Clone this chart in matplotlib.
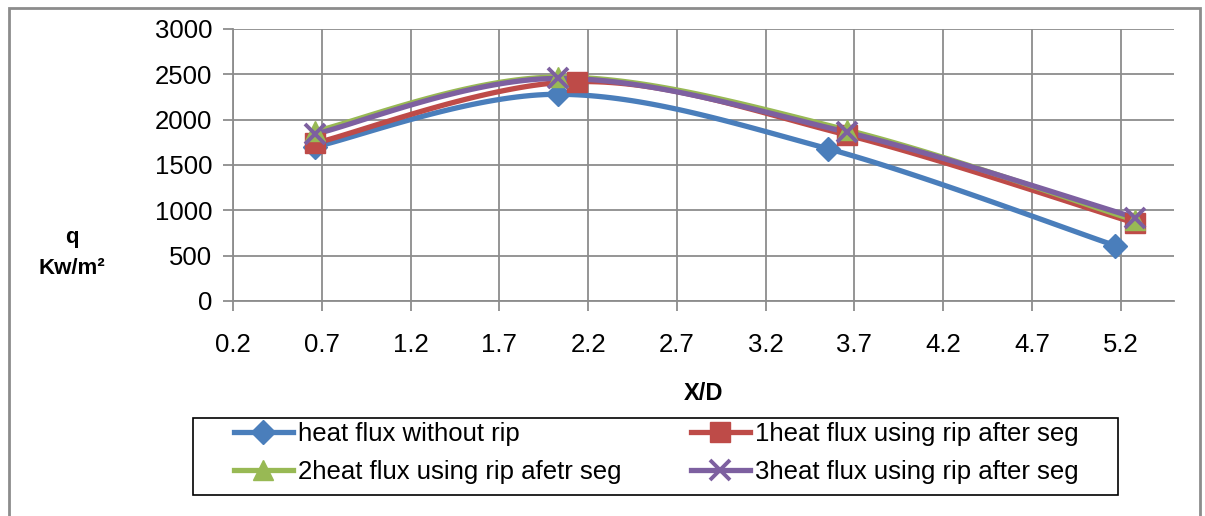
import numpy as np
import matplotlib
matplotlib.use("Agg")
import matplotlib.pyplot as plt
from matplotlib.patches import Rectangle

# data
x_base = [0.66, 2.03, 3.55, 5.17]
q_base = [1700, 2280, 1680, 610]
x_rib = [0.66, 2.14, 3.66, 5.28]
x_rib2 = [0.66, 2.03, 3.66, 5.28]
q_rib1 = [1740, 2420, 1830, 860]
q_rib2 = [1870, 2470, 1885, 890]
q_rib3 = [1840, 2455, 1860, 920]

labels = ["heat flux without rip", "1heat flux using rip after seg",
          "2heat flux using rip afetr seg", "3heat flux using rip after seg"]
colors = ["#4A7EBB", "#BE4B48", "#98B954", "#7D60A0"]
markers = ["D", "s", "^", "x"]


def smooth(xs, ys, n=40):
    # Excel-like smoothed line (Catmull-Rom through the points)
    xs = np.asarray(xs, float); ys = np.asarray(ys, float)
    px = np.concatenate([[xs[0]], xs, [xs[-1]]])
    py = np.concatenate([[ys[0]], ys, [ys[-1]]])
    ox, oy = [], []
    t = np.linspace(0, 1, n)
    for i in range(1, len(px) - 2):
        for arr, out in ((px, ox), (py, oy)):
            p0, p1, p2, p3 = arr[i - 1], arr[i], arr[i + 1], arr[i + 2]
            c1 = p1 + (p2 - p0) / 6
            c2 = p2 - (p3 - p1) / 6
            out.extend((1 - t) ** 3 * p1 + 3 * (1 - t) ** 2 * t * c1
                       + 3 * (1 - t) * t ** 2 * c2 + t ** 3 * p2)
    return ox, oy


plt.rcParams['font.family'] = ['Liberation Sans', 'DejaVu Sans']
fig = plt.figure(figsize=(12.05, 5.16), dpi=100)
ax = fig.add_axes([233 / 1205, 1 - 301 / 516, (1174 - 233) / 1205, (301 - 29) / 516])

series = [(x_base, q_base), (x_rib, q_rib1), (x_rib2, q_rib2), (x_rib2, q_rib3)]
handles = []
for (xs, ys), lab, c, m in zip(series, labels, colors, markers):
    sx, sy = smooth(xs, ys)
    ax.plot(sx, sy, color=c, lw=3.8, zorder=3)
    ms = 14 if m != "D" else 12
    mew = 2.8 if m == "x" else 1
    ax.plot(xs, ys, ls="none", marker=m, color=c, ms=ms, mew=mew, zorder=4)
    h, = ax.plot([], [], color=c, lw=3.8, marker=m, ms=ms, mew=mew)
    handles.append(h)

ax.set_xlim(0.2, 5.5)
ax.set_ylim(0, 3000)
ax.set_xticks(np.arange(0.2, 5.3, 0.5))
ax.set_xticklabels([f"{v:.1f}" for v in np.arange(0.2, 5.3, 0.5)])
ax.set_yticks(range(0, 3001, 500))
ax.grid(True, color="#8c8c8c", lw=1.3)
ax.set_axisbelow(True)
for s in ["top", "right"]:
    ax.spines[s].set_visible(False)
for s in ["left", "bottom"]:
    ax.spines[s].set_color("#8c8c8c")
    ax.spines[s].set_linewidth(1.3)
ax.tick_params(direction="out", length=7, width=1.3, color="#8c8c8c",
               labelsize=18.5, pad=8)
ax.tick_params(axis="x", pad=16)

fig.text(704 / 1205, 1 - 393 / 516, "X/D", ha="center", va="center",
         fontsize=17, fontweight="bold")
fig.text(72 / 1205, 1 - 238 / 516, "q", ha="center", va="center",
         fontsize=16, fontweight="bold")
fig.text(72 / 1205, 1 - 268 / 516, "Kw/m²", ha="center", va="center",
         fontsize=16, fontweight="bold")

order = [0, 2, 1, 3]
leg = fig.legend([handles[i] for i in order], [labels[i] for i in order],
                 ncol=2, loc="center", bbox_to_anchor=(656 / 1205, 1 - 453 / 516),
                 frameon=False, prop={'size': 18.5},
                 handlelength=2.3, handletextpad=0.2, columnspacing=2.7,
                 labelspacing=0.55, borderpad=0, borderaxespad=0)

# legend box (Excel draws it wider than the entries)
fig.patches.append(Rectangle((193 / 1205, 1 - 495 / 516), (1118 - 193) / 1205, 77 / 516,
                             transform=fig.transFigure, fill=False,
                             edgecolor="black", lw=1.2))

# outer chart border
fig.patches.append(Rectangle((9 / 1205, -0.01), (1200 - 9) / 1205, 1 - 8 / 516 + 0.01,
                             transform=fig.transFigure, fill=False,
                             edgecolor="#8c8c8c", lw=2))

fig.savefig("out.png", dpi=100)
